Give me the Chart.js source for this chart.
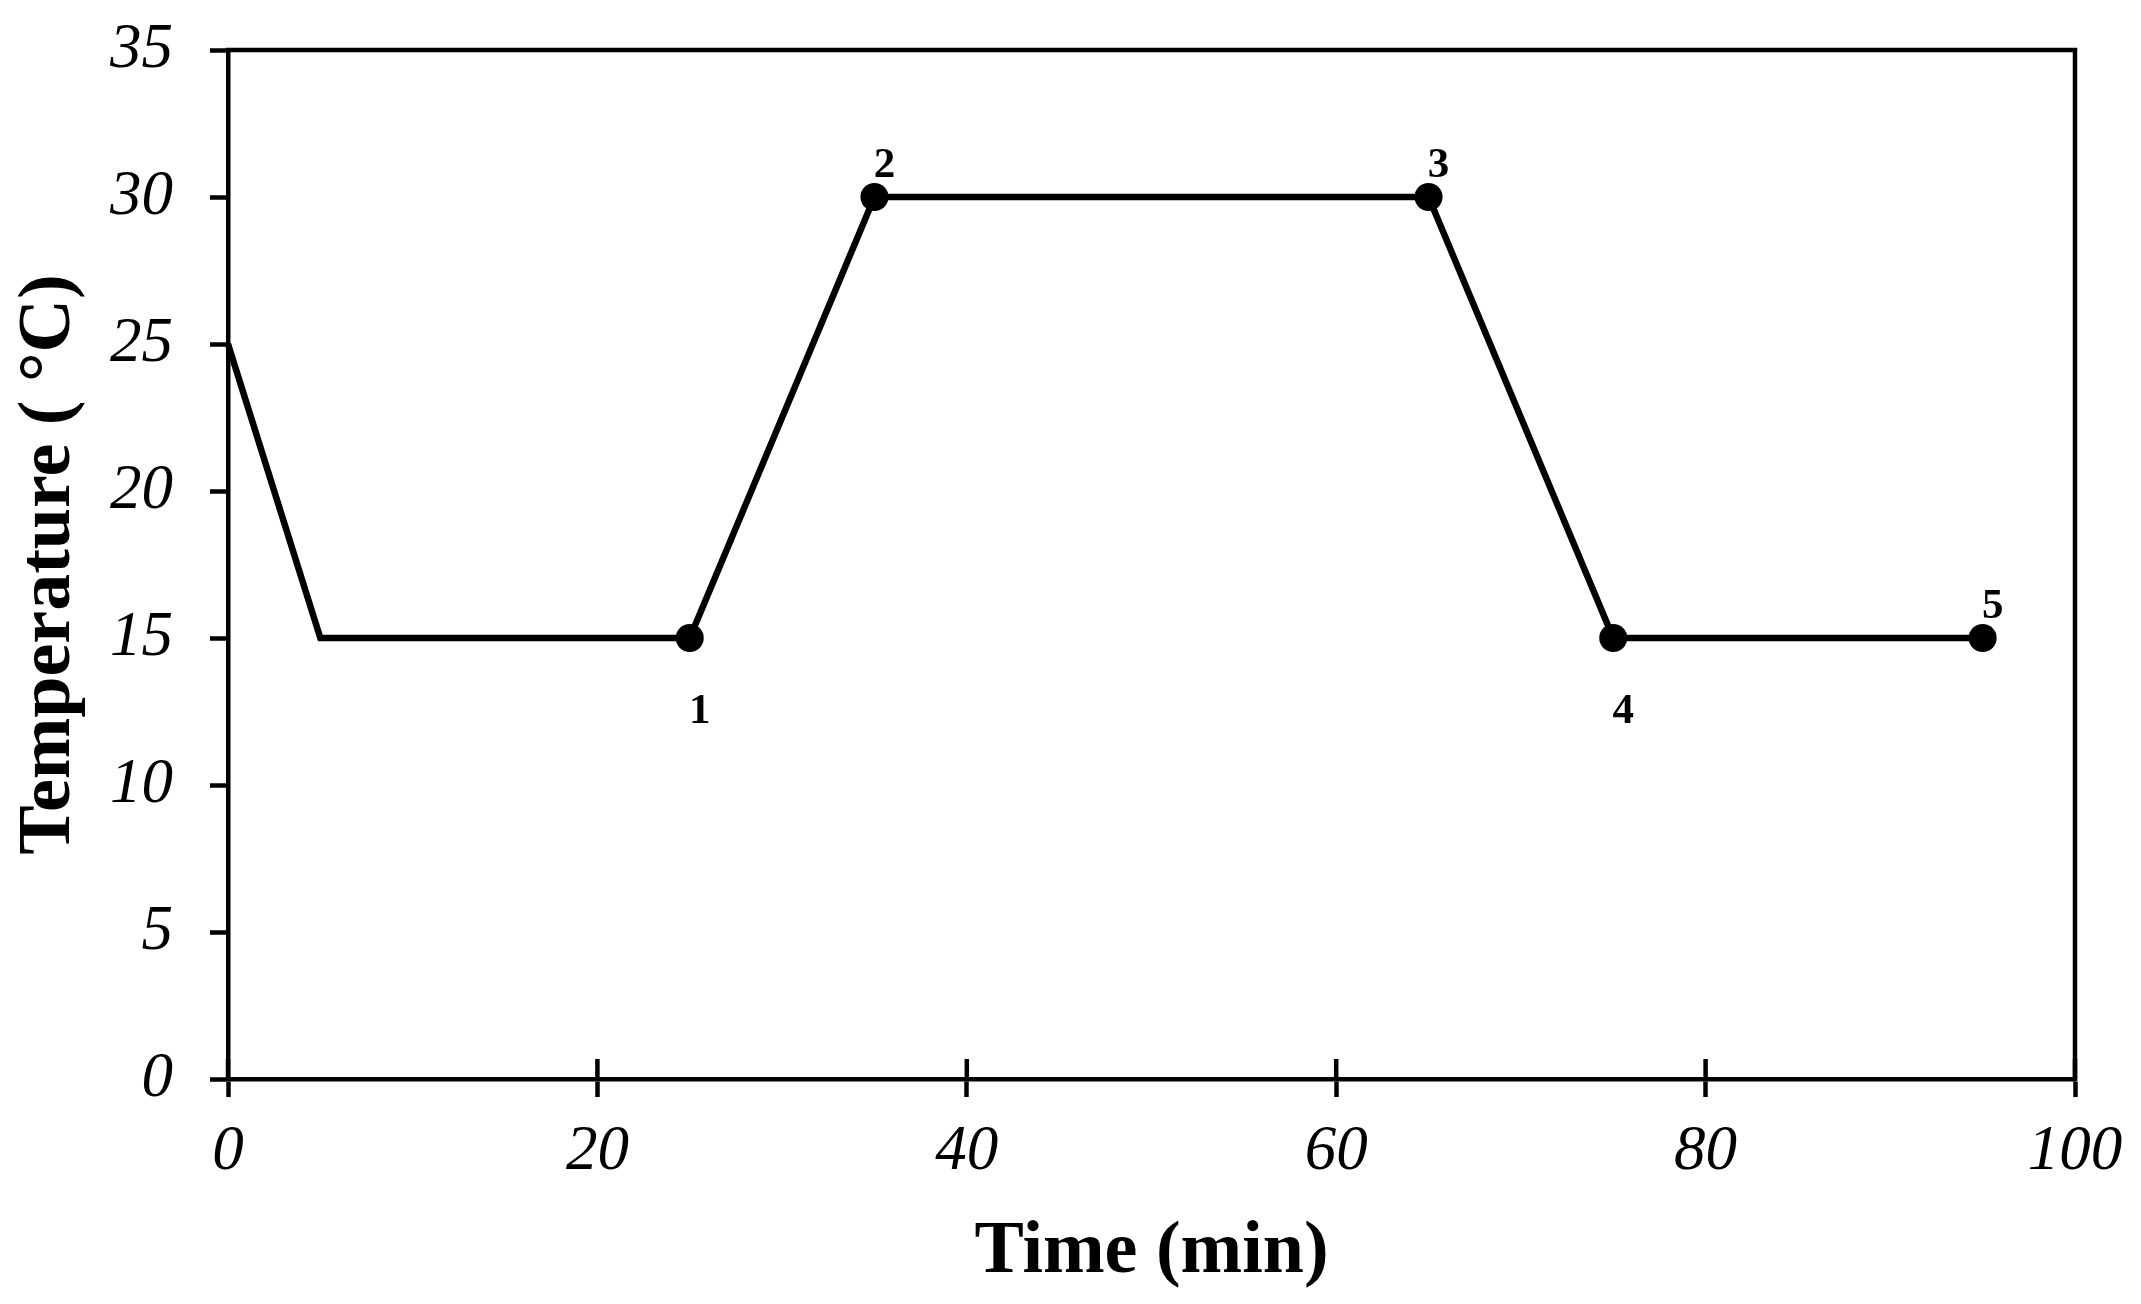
<!DOCTYPE html>
<html>
<head>
<meta charset="utf-8">
<script src="https://cdn.jsdelivr.net/npm/chart.js@4"></script>
<style>
  html,body{margin:0;padding:0;background:#fff;}
  #wrap{width:2141px;height:1304px;}
</style>
</head>
<body>
<div id="wrap"><canvas id="c" width="2141" height="1304"></canvas></div>
<script>
// temperature programme
const TIME = [0, 5, 25, 35, 65, 75, 95];
const TEMP = [25, 15, 15, 30, 30, 15, 15];
const POINT_LABEL = ['', '', '1', '2', '3', '4', '5'];
const LABEL_SIDE = ['', '', 'below', 'above', 'above', 'below', 'above'];
const X_TICKS = [0, 20, 40, 60, 80, 100];
const Y_TICKS = [0, 5, 10, 15, 20, 25, 30, 35];

const SERIF = '"Liberation Serif","Times New Roman",serif';
const AXW = 4.5;

// box top/right edges, inward half of the x ticks, numbered point labels
const extras = {
  id:'extras',
  afterDraw(chart){
    const {ctx, chartArea:a, scales:{x, y}} = chart;
    ctx.save();
    ctx.strokeStyle = '#000'; ctx.lineWidth = AXW; ctx.lineCap = 'square';
    ctx.beginPath();
    ctx.moveTo(a.left, a.top); ctx.lineTo(a.right, a.top); ctx.lineTo(a.right, a.bottom);
    ctx.stroke();
    ctx.lineCap = 'butt';
    X_TICKS.forEach(v=>{
      const px = x.getPixelForValue(v);
      ctx.beginPath(); ctx.moveTo(px, a.bottom); ctx.lineTo(px, a.bottom - 20); ctx.stroke();
    });
    ctx.fillStyle = '#000';
    ctx.font = 'bold 43px ' + SERIF;
    ctx.textAlign = 'center'; ctx.textBaseline = 'middle';
    TIME.forEach((t,i)=>{
      if(!POINT_LABEL[i]) return;
      const px = x.getPixelForValue(t), py = y.getPixelForValue(TEMP[i]);
      const dy = LABEL_SIDE[i]==='below' ? 74 : -31;
      ctx.fillText(POINT_LABEL[i], px + 10, py + dy);
    });
    ctx.restore();
  }
};

new Chart(document.getElementById('c'), {
  type:'line',
  data:{datasets:[{
    data: TIME.map((t,i)=>({x:t, y:TEMP[i]})),
    borderColor:'#000', backgroundColor:'#000', borderWidth:6.5,
    tension:0,
    pointRadius: POINT_LABEL.map(l=>l?14:0),
    pointHoverRadius: POINT_LABEL.map(l=>l?14:0),
    pointBorderWidth:0,
    clip:false
  }]},
  options:{
    responsive:false, animation:false, devicePixelRatio:1,
    layout:{padding:{top:50, right:66, left:0, bottom:0}},
    plugins:{legend:{display:false}, tooltip:{enabled:false}},
    events:[],
    scales:{
      x:{
        type:'linear', min:0, max:100,
        afterBuildTicks:s=>{s.ticks = X_TICKS.map(v=>({value:v}));},
        afterFit:s=>{s.height = 225; s.paddingLeft = 0; s.paddingRight = 0;},
        ticks:{autoSkip:false, maxRotation:0, padding:18, color:'#000',
          font:{family:SERIF, size:63, style:'italic'}},
        grid:{drawOnChartArea:false, tickLength:18, tickWidth:AXW, color:'#000'},
        border:{display:true, width:AXW, color:'#000'},
        title:{display:true, text:'Time (min)', color:'#000', padding:{top:0, bottom:14},
          font:{family:SERIF, size:74, weight:'bold', lineHeight:1}}
      },
      y:{
        type:'linear', min:0, max:35,
        afterBuildTicks:s=>{s.ticks = Y_TICKS.map(v=>({value:v}));},
        afterFit:s=>{s.width = 228; s.paddingTop = 0; s.paddingBottom = 0;},
        ticks:{autoSkip:false, padding:37, color:'#000',
          font:{family:SERIF, size:63, style:'italic'}},
        grid:{drawOnChartArea:false, tickLength:18, tickWidth:AXW, color:'#000'},
        border:{display:true, width:AXW, color:'#000'},
        title:{display:true, text:'Temperature ( °C)', color:'#000', padding:{top:13, bottom:0},
          font:{family:SERIF, size:74, weight:'bold', lineHeight:1}}
      }
    }
  },
  plugins:[extras]
});
</script>
</body>
</html>
